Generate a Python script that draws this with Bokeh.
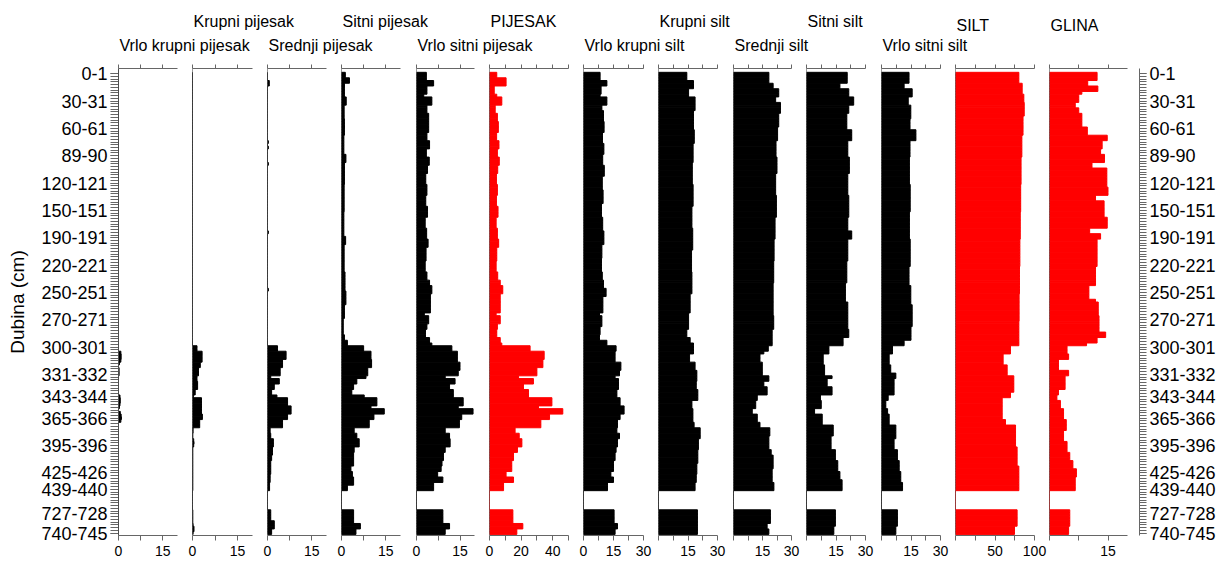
from bokeh.plotting import figure
from bokeh.layouts import row, column
from bokeh.models import (Range1d, LinearAxis, FixedTicker, CustomJSTickFormatter,
                          Span, ColumnDataSource)
from bokeh.core.properties import value
from bokeh.embed import file_html
from bokeh.resources import INLINE

# ---------------- data ----------------
sample = list(range(169))

depth_tick_idx = [0, 10, 20, 30, 40, 50, 60, 70, 80, 90, 100, 110, 118, 126, 136, 146, 152, 161, 168]
depth_labels = ["0-1", "30-31", "60-61", "89-90", "120-121", "150-151", "190-191", "220-221",
                "250-251", "270-271", "300-301", "331-332", "343-344", "365-366", "395-396",
                "425-426", "439-440", "727-728", "740-745"]

titles = ["Vrlo krupni pijesak", "Krupni pijesak", "Srednji pijesak", "Sitni pijesak",
          "Vrlo sitni pijesak", "PIJESAK", "Vrlo krupni silt", "Krupni silt", "Srednji silt",
          "Sitni silt", "Vrlo sitni silt", "SILT", "GLINA"]

vrlo_krupni_pijesak = [
    0, 0, 0, 0, 0, 0, 0, 0, 0, 0,
    0, 0, 0, 0, 0, 0, 0, 0, 0, 0,
    0, 0, 0, 0, 0, 0, 0, 0, 0, 0,
    0, 0, 0, 0, 0, 0, 0, 0, 0, 0,
    0, 0, 0, 0, 0, 0, 0, 0, 0, 0,
    0, 0, 0, 0, 0, 0, 0, 0, 0, 0,
    0, 0, 0, 0, 0, 0, 0, 0, 0, 0,
    0, 0, 0, 0, 0, 0, 0, 0, 0, 0,
    0, 0, 0, 0, 0, 0, 0, 0, 0, 0,
    0, 0, 0, 0, 0, 0, 0, 0, 0, 0,
    0, 0, 0.8, 0.9, 0.9, 0.8, 0.3, 0, 0.2, 0.2,
    0.2, 0, 0, 0, 0, 0, 0, 0, 0.5, 0.6,
    0.6, 0.5, 0.3, 0, 0.6, 0.9, 1.0, 0.8, 0, 0,
    0, 0, 0, 0, 0, 0, 0, 0, 0, 0,
    0, 0, 0, 0, 0, 0, 0, 0, 0, 0,
    0, 0, 0, 0, 0, 0, 0, 0, 0, 0,
    0, 0, 0, 0, 0, 0, 0, 0, 0]

krupni_pijesak = [
    0, 0, 0, 0, 0, 0, 0, 0, 0, 0,
    0, 0, 0, 0, 0, 0, 0, 0, 0, 0,
    0, 0, 0, 0, 0, 0, 0, 0, 0, 0,
    0, 0, 0, 0, 0, 0, 0, 0, 0, 0,
    0, 0, 0, 0, 0, 0, 0, 0, 0, 0,
    0, 0, 0, 0, 0, 0, 0, 0, 0, 0,
    0, 0, 0, 0, 0, 0, 0, 0, 0, 0,
    0, 0, 0, 0, 0, 0, 0, 0, 0, 0,
    0, 0, 0, 0, 0, 0, 0, 0, 0, 0,
    0, 0, 0, 0, 0, 0, 0, 0, 0, 0,
    1.5, 1.5, 3.2, 3.2, 3.2, 3.2, 2.6, 2.6, 2.0, 2.0,
    2.0, 1.5, 1.5, 1.7, 1.7, 1.7, 0.9, 0.9, 0.3, 3.0,
    3.0, 3.0, 3.0, 3.0, 3.0, 3.3, 3.3, 2.4, 2.4, 2.4,
    0.2, 0.2, 0.1, 0.1, 0.4, 0.5, 0.4, 0.1, 0.1, 0.1,
    0.1, 0.1, 0.1, 0.1, 0.1, 0.1, 0.1, 0.1, 0.1, 0.1,
    0.1, 0.1, 0.1, 0, 0, 0, 0, 0, 0, 0,
    0.1, 0.1, 0.1, 0.1, 0.1, 0.2, 0.5, 0.5, 0.2]

srednji_pijesak = [
    0, 0, 0, 0.6, 0.6, 0, 0, 0, 0, 0,
    0, 0, 0, 0, 0, 0, 0, 0, 0, 0,
    0, 0, 0, 0, 0, 0.3, 0, 0.3, 0, 0,
    0, 0, 0, 0.3, 0, 0, 0, 0, 0, 0,
    0, 0, 0, 0, 0, 0, 0, 0, 0, 0,
    0, 0, 0, 0, 0, 0, 0, 0, 0.3, 0,
    0, 0, 0, 0, 0, 0, 0, 0, 0, 0,
    0, 0, 0, 0, 0, 0, 0, 0, 0, 0.3,
    0, 0, 0, 0, 0, 0, 0, 0, 0, 0,
    0, 0, 0, 0, 0, 0, 0, 0, 0, 0,
    3.4, 3.4, 6.3, 6.3, 6.3, 5.1, 5.1, 5.1, 4.3, 4.3,
    4.3, 1.1, 4.0, 4.0, 2.3, 2.3, 1.4, 1.4, 3.2, 6.8,
    6.8, 6.8, 8.0, 8.0, 8.0, 6.8, 6.8, 5.1, 5.1, 5.1,
    0.9, 0.9, 1.1, 1.1, 2.0, 2.0, 2.0, 1.7, 1.7, 1.7,
    1.4, 1.4, 1.1, 1.1, 1.1, 1.1, 1.1, 0.9, 0.9, 0.9,
    0.7, 0.7, 0.7, 0, 0, 0, 0, 0, 0, 0,
    1.1, 1.1, 1.1, 1.1, 2.3, 2.3, 2.3, 1.4, 1.4]

sitni_pijesak = [
    1.3, 1.3, 2.7, 2.7, 1.0, 1.0, 1.0, 1.0, 1.0, 1.6,
    1.6, 1.6, 0.9, 0.9, 0.9, 0.9, 0.9, 1.0, 1.0, 1.0,
    1.0, 1.0, 1.0, 0.8, 0.8, 0.8, 0.8, 0.8, 0.8, 0.8,
    1.5, 1.5, 1.5, 1.0, 1.0, 1.0, 1.0, 1.0, 1.0, 1.0,
    1.0, 0.9, 0.9, 0.9, 0.9, 0.9, 0.9, 0.9, 0.9, 0.9,
    0.9, 0.8, 0.8, 0.8, 0.8, 0.8, 0.8, 0.8, 0.8, 0.8,
    1.4, 1.4, 1.4, 0.9, 0.9, 0.9, 0.9, 0.9, 0.9, 0.9,
    0.9, 0.9, 0.9, 1.2, 1.2, 1.2, 1.2, 1.2, 1.2, 1.2,
    1.5, 1.5, 1.5, 1.5, 1.5, 1.0, 1.0, 1.0, 1.0, 1.0,
    0.6, 0.6, 0.6, 0.6, 0.6, 0.6, 1.0, 1.0, 2.0, 2.0,
    7.5, 7.5, 10.0, 10.0, 10.0, 10.2, 10.2, 10.2, 8.9, 8.9,
    8.9, 8.3, 5.2, 5.2, 4.1, 4.1, 3.5, 3.5, 7.7, 12.0,
    12.0, 12.0, 10.0, 14.5, 14.5, 11.0, 11.0, 9.4, 9.4, 9.4,
    4.3, 4.3, 5.2, 5.2, 6.0, 6.0, 6.0, 4.3, 4.3, 4.1,
    4.1, 4.1, 4.1, 4.1, 3.2, 3.2, 3.7, 3.7, 4.1, 4.1,
    4.1, 2.0, 2.0, 0, 0, 0, 0, 0, 0, 0,
    4.1, 4.1, 4.1, 4.1, 4.1, 6.4, 6.4, 4.9, 4.9]

vrlo_sitni_pijesak = [
    3.4, 3.4, 3.4, 5.9, 5.9, 3.6, 3.6, 3.6, 2.5, 5.3,
    5.3, 5.3, 3.6, 3.6, 3.6, 4.2, 4.2, 4.2, 4.2, 4.2,
    4.2, 4.2, 3.6, 3.6, 3.6, 4.5, 4.5, 4.5, 3.4, 3.4,
    3.4, 4.4, 4.4, 4.4, 3.8, 3.8, 3.8, 3.2, 3.2, 3.2,
    3.2, 3.6, 3.6, 3.6, 3.6, 3.2, 3.2, 3.2, 3.2, 3.8,
    3.8, 3.8, 3.8, 3.0, 3.0, 3.0, 3.0, 3.5, 3.5, 3.5,
    3.5, 4.0, 4.0, 4.0, 3.3, 3.3, 3.3, 3.3, 3.3, 3.0,
    3.0, 3.0, 3.0, 3.6, 3.6, 3.6, 4.5, 4.5, 5.3, 5.3,
    5.3, 4.8, 4.8, 4.8, 4.8, 4.8, 4.8, 4.8, 2.7, 4.2,
    4.2, 4.2, 3.6, 3.6, 3.1, 3.1, 3.1, 4.5, 4.5, 5.3,
    12.2, 12.2, 14.1, 14.1, 14.1, 14.1, 15.0, 15.0, 15.0, 14.4,
    14.4, 9.9, 13.3, 13.3, 11.4, 11.4, 12.7, 12.7, 12.7, 16.1,
    16.1, 16.1, 14.4, 19.5, 19.5, 15.6, 15.6, 14.8, 14.8, 14.8,
    9.9, 9.9, 11.4, 11.4, 11.6, 11.6, 11.6, 9.9, 9.9, 9.3,
    9.3, 9.3, 8.8, 8.8, 8.5, 8.5, 7.3, 7.3, 9.1, 9.1,
    5.9, 5.9, 5.9, 0, 0, 0, 0, 0, 0, 0,
    9.1, 9.1, 9.1, 9.1, 9.1, 11.4, 11.4, 9.9, 9.9]

pijesak = [
    4.6, 4.6, 10.5, 10.5, 10.5, 3.0, 3.0, 3.0, 4.6, 7.8,
    7.8, 7.8, 3.6, 3.6, 3.6, 5.0, 5.0, 5.0, 5.6, 5.6,
    5.6, 5.6, 4.5, 4.5, 4.5, 6.0, 6.0, 6.0, 5.0, 5.0,
    5.0, 6.2, 6.2, 6.2, 5.2, 5.2, 5.2, 4.4, 4.4, 4.4,
    4.4, 5.0, 5.0, 5.0, 5.0, 4.4, 4.4, 4.4, 4.4, 5.4,
    5.4, 5.4, 5.4, 4.2, 4.2, 4.2, 4.2, 5.0, 5.0, 5.0,
    5.0, 5.8, 5.8, 5.8, 4.6, 4.6, 4.6, 4.6, 4.6, 4.2,
    4.2, 4.2, 4.2, 5.2, 5.2, 5.2, 6.8, 6.8, 8.4, 8.4,
    8.4, 6.8, 6.8, 6.8, 6.8, 6.8, 6.8, 6.8, 4.2, 6.8,
    6.8, 6.8, 5.0, 5.0, 4.6, 4.6, 4.6, 6.8, 6.8, 7.8,
    25.7, 25.7, 34.6, 34.6, 34.6, 33.8, 33.8, 33.8, 30.0, 30.0,
    30.0, 18.4, 27.8, 27.8, 21.5, 21.5, 24.7, 24.7, 24.7, 39.5,
    39.5, 39.5, 31.0, 46.4, 46.4, 38.0, 38.0, 32.5, 32.5, 32.5,
    16.2, 16.2, 18.8, 18.8, 20.5, 20.5, 20.5, 17.7, 17.7, 15.2,
    15.2, 15.2, 14.1, 14.1, 14.1, 14.1, 10.5, 10.5, 15.2, 15.2,
    8.9, 8.9, 8.9, 0, 0, 0, 0, 0, 0, 0,
    14.8, 14.8, 14.8, 14.8, 14.8, 21.1, 21.1, 17.3, 17.3]

vrlo_krupni_silt = [
    8.3, 8.3, 8.3, 11.7, 11.7, 8.8, 8.8, 8.8, 8.3, 11.7,
    11.7, 11.7, 9.2, 9.2, 10.0, 10.0, 10.0, 10.0, 10.3, 10.3,
    10.3, 10.3, 9.5, 9.5, 9.5, 9.5, 10.2, 10.2, 10.2, 10.2,
    9.6, 9.6, 9.6, 9.6, 10.4, 10.4, 10.4, 10.4, 9.4, 9.4,
    9.4, 9.4, 9.4, 9.8, 9.8, 9.8, 9.8, 9.8, 9.0, 9.0,
    9.0, 9.0, 9.0, 9.6, 9.6, 9.6, 9.6, 9.6, 10.2, 10.2,
    10.2, 10.2, 10.2, 9.2, 9.2, 9.2, 9.2, 9.2, 9.0, 9.0,
    9.0, 9.0, 9.0, 9.4, 9.4, 9.4, 10.0, 10.0, 10.0, 11.3,
    11.3, 11.3, 9.7, 9.7, 9.7, 9.7, 9.7, 9.7, 8.0, 9.2,
    9.2, 9.2, 9.2, 8.3, 8.3, 8.3, 8.0, 8.0, 11.7, 11.7,
    16.3, 16.3, 15.8, 15.8, 15.8, 15.8, 18.7, 18.7, 18.7, 18.0,
    18.0, 15.8, 17.5, 17.5, 17.5, 17.5, 16.7, 16.7, 16.7, 18.3,
    18.3, 18.3, 20.3, 20.3, 20.3, 18.3, 18.3, 17.0, 17.0, 17.0,
    16.7, 16.7, 18.0, 18.0, 17.0, 17.0, 17.0, 16.3, 16.3, 15.8,
    15.8, 15.8, 15.0, 15.0, 15.0, 15.0, 13.7, 13.7, 15.0, 15.0,
    12.0, 12.0, 12.0, 0, 0, 0, 0, 0, 0, 0,
    15.3, 15.3, 15.3, 15.3, 15.3, 17.0, 17.0, 15.8, 15.8]

krupni_silt = [
    14.4, 14.4, 14.4, 17.8, 17.8, 17.8, 15.3, 15.3, 15.3, 18.6,
    18.6, 18.6, 18.6, 18.6, 17.8, 17.8, 17.8, 17.8, 17.8, 17.8,
    17.8, 18.2, 18.2, 18.2, 18.2, 18.2, 17.6, 17.6, 17.6, 17.6,
    17.6, 17.6, 17.6, 17.2, 17.2, 17.2, 17.2, 17.2, 17.2, 17.2,
    17.2, 17.6, 17.6, 17.6, 17.6, 17.6, 17.6, 17.6, 17.6, 17.0,
    17.0, 17.0, 17.0, 17.0, 17.0, 17.0, 17.0, 17.4, 17.4, 17.4,
    17.4, 17.4, 17.4, 17.4, 17.4, 16.8, 16.8, 16.8, 16.8, 16.8,
    16.8, 16.8, 16.8, 17.0, 17.0, 17.0, 17.0, 17.0, 17.0, 17.0,
    17.0, 16.1, 16.1, 16.1, 16.1, 16.1, 16.1, 16.1, 15.3, 15.3,
    15.3, 15.3, 15.3, 15.3, 14.4, 14.4, 14.4, 16.1, 16.1, 17.8,
    17.8, 17.8, 17.8, 15.8, 15.8, 15.8, 18.6, 18.6, 18.6, 19.5,
    19.5, 19.5, 19.5, 19.2, 19.2, 19.2, 20.0, 20.0, 20.0, 20.0,
    17.0, 17.0, 17.0, 17.5, 17.5, 17.5, 17.5, 17.5, 18.1, 18.1,
    21.2, 21.2, 21.2, 21.2, 20.3, 20.3, 20.3, 20.3, 20.0, 20.0,
    20.0, 20.0, 20.0, 19.5, 19.5, 19.5, 19.5, 19.2, 19.2, 19.2,
    18.6, 18.6, 18.6, 0, 0, 0, 0, 0, 0, 0,
    19.8, 19.8, 19.8, 19.8, 19.8, 19.8, 19.8, 19.8, 19.8]

srednji_silt = [
    18.3, 18.3, 18.3, 18.3, 20.5, 20.5, 23.4, 23.4, 23.4, 21.8,
    21.8, 24.3, 24.3, 24.3, 24.3, 23.4, 23.4, 23.4, 23.4, 23.4,
    22.8, 22.8, 22.8, 22.8, 22.8, 22.0, 22.0, 22.0, 22.0, 22.0,
    22.0, 22.5, 22.5, 22.5, 22.5, 22.5, 22.5, 21.8, 21.8, 21.8,
    21.8, 21.8, 21.8, 21.8, 21.8, 22.2, 22.2, 22.2, 22.2, 22.2,
    22.2, 22.2, 22.2, 21.5, 21.5, 21.5, 21.5, 21.5, 21.5, 21.5,
    21.5, 21.0, 21.0, 21.0, 21.0, 21.0, 21.0, 21.0, 21.0, 20.8,
    20.8, 20.8, 20.8, 20.8, 20.8, 20.8, 20.8, 20.5, 20.5, 20.5,
    20.5, 20.5, 20.5, 20.5, 20.5, 20.5, 20.5, 20.5, 20.5, 20.8,
    20.8, 20.8, 20.8, 20.8, 20.0, 20.0, 20.0, 20.0, 20.0, 20.0,
    18.0, 18.0, 15.7, 13.7, 13.7, 13.7, 14.9, 14.9, 14.9, 14.9,
    14.9, 18.3, 18.3, 15.7, 15.7, 17.4, 17.4, 17.4, 12.3, 12.3,
    11.5, 11.5, 11.5, 9.7, 9.7, 12.3, 12.3, 12.3, 13.7, 13.7,
    18.8, 18.8, 18.8, 18.3, 18.3, 18.3, 18.3, 18.3, 19.5, 19.5,
    20.5, 20.5, 20.5, 20.5, 20.5, 20.0, 20.0, 20.0, 20.0, 20.0,
    20.9, 20.9, 20.9, 0, 0, 0, 0, 0, 0, 0,
    19.1, 19.1, 19.1, 19.1, 19.1, 17.4, 17.4, 18.3, 18.3]

sitni_silt = [
    20.7, 20.7, 20.7, 20.7, 17.0, 17.0, 21.5, 21.5, 21.5, 24.0,
    24.0, 24.0, 21.5, 21.5, 21.5, 20.5, 20.5, 20.5, 20.5, 20.5,
    20.5, 23.0, 23.0, 23.0, 23.0, 21.0, 21.0, 21.0, 21.0, 21.0,
    21.0, 21.8, 21.8, 21.8, 21.8, 21.8, 21.8, 21.0, 21.0, 21.0,
    21.0, 21.0, 21.0, 21.0, 21.0, 21.5, 21.5, 21.5, 21.5, 21.5,
    21.5, 21.5, 21.5, 21.0, 21.0, 21.0, 21.0, 21.0, 23.0, 23.0,
    23.0, 21.0, 21.0, 21.0, 21.0, 21.0, 21.0, 21.0, 21.0, 20.5,
    20.5, 20.5, 20.5, 20.5, 20.5, 20.5, 20.5, 19.8, 19.8, 19.8,
    19.8, 19.8, 19.8, 19.8, 21.0, 21.0, 21.0, 21.0, 21.0, 21.0,
    21.0, 21.0, 21.0, 21.0, 21.5, 21.5, 21.5, 18.6, 18.6, 18.6,
    11.4, 11.4, 11.4, 8.5, 8.5, 8.5, 8.5, 9.2, 9.2, 9.2,
    9.2, 13.0, 10.5, 10.5, 10.5, 13.0, 13.0, 13.0, 7.1, 7.1,
    7.5, 7.5, 7.5, 4.1, 4.1, 8.0, 8.0, 8.0, 8.0, 13.6,
    13.6, 13.6, 13.6, 12.5, 12.5, 12.5, 12.5, 12.5, 14.7, 14.7,
    14.7, 14.7, 15.9, 15.9, 15.9, 15.9, 17.0, 17.0, 17.0, 18.1,
    18.1, 18.1, 18.1, 0, 0, 0, 0, 0, 0, 0,
    14.7, 14.7, 14.7, 14.7, 14.7, 14.7, 13.9, 13.9, 13.9]

vrlo_sitni_silt = [
    14.0, 14.0, 14.0, 14.0, 11.5, 11.5, 15.6, 15.6, 15.6, 13.6,
    13.6, 13.6, 14.9, 14.9, 14.9, 14.9, 14.9, 14.5, 14.5, 14.5,
    14.5, 17.5, 17.5, 17.5, 17.5, 14.5, 14.5, 14.5, 14.5, 14.5,
    14.5, 14.2, 14.2, 14.2, 14.2, 14.2, 14.2, 14.2, 14.2, 14.2,
    14.2, 14.6, 14.6, 14.6, 14.6, 14.6, 14.6, 14.6, 14.6, 14.6,
    14.6, 14.2, 14.2, 14.2, 14.2, 14.2, 14.2, 14.2, 14.2, 14.2,
    14.2, 14.6, 14.6, 14.6, 14.6, 14.6, 14.6, 14.6, 14.6, 14.6,
    14.6, 14.0, 14.0, 14.0, 14.0, 14.0, 14.0, 14.0, 14.9, 14.9,
    14.9, 14.9, 14.9, 14.9, 14.9, 15.6, 15.6, 15.6, 15.6, 15.6,
    15.6, 15.6, 15.6, 15.0, 15.0, 15.0, 15.0, 15.0, 11.5, 11.5,
    5.6, 5.6, 5.6, 3.9, 3.9, 3.9, 3.9, 4.7, 4.7, 4.7,
    7.3, 7.3, 6.4, 6.4, 6.4, 6.4, 6.4, 6.4, 3.4, 3.4,
    2.2, 2.2, 2.2, 3.1, 3.1, 3.9, 3.9, 3.9, 3.9, 7.3,
    7.3, 7.3, 7.3, 7.3, 6.4, 6.4, 6.4, 6.4, 8.1, 8.1,
    8.1, 8.1, 9.0, 9.0, 9.0, 9.0, 9.8, 9.8, 9.8, 9.8,
    10.7, 10.7, 10.7, 0, 0, 0, 0, 0, 0, 0,
    8.1, 8.1, 8.1, 8.1, 8.1, 8.1, 7.3, 7.3, 7.3]

silt = [
    80.2, 80.2, 80.2, 80.2, 84.4, 84.4, 84.4, 84.4, 86.5, 86.5,
    86.5, 87.0, 87.0, 87.0, 87.0, 87.0, 85.5, 85.5, 85.5, 85.5,
    85.5, 85.5, 85.5, 84.0, 84.0, 84.0, 84.0, 84.0, 84.0, 84.0,
    84.0, 83.0, 83.0, 83.0, 83.0, 83.0, 83.0, 83.0, 83.0, 83.0,
    83.0, 82.5, 82.5, 82.5, 82.5, 82.5, 82.5, 82.5, 82.5, 82.5,
    82.5, 82.0, 82.0, 82.0, 82.0, 82.0, 82.0, 82.0, 82.0, 82.0,
    82.0, 81.5, 81.5, 81.5, 81.5, 81.5, 81.5, 81.5, 81.5, 81.5,
    81.5, 81.0, 81.0, 81.0, 81.0, 81.0, 81.0, 81.0, 81.0, 81.0,
    81.0, 80.5, 80.5, 80.5, 80.5, 80.5, 80.5, 80.5, 80.5, 80.5,
    80.5, 80.2, 80.2, 80.2, 80.2, 80.2, 80.2, 80.2, 80.2, 80.2,
    69.6, 69.6, 69.6, 60.3, 60.3, 60.3, 60.3, 65.4, 65.4, 65.4,
    65.4, 73.8, 73.8, 73.8, 73.8, 73.8, 73.8, 69.6, 69.6, 59.1,
    59.1, 59.1, 59.1, 59.1, 59.1, 59.1, 59.1, 63.3, 63.3, 76.0,
    76.0, 76.0, 76.0, 76.0, 76.0, 76.0, 76.0, 78.0, 78.0, 78.0,
    78.0, 78.0, 78.0, 78.0, 80.2, 80.2, 80.2, 80.2, 80.2, 80.2,
    80.2, 80.2, 80.2, 0, 0, 0, 0, 0, 0, 0,
    78.0, 78.0, 78.0, 78.0, 78.0, 78.0, 74.7, 74.7, 74.7]

glina = [
    12.2, 12.2, 12.2, 9.8, 9.8, 12.4, 12.4, 8.3, 7.5, 7.5,
    7.5, 6.6, 6.6, 7.5, 7.5, 8.3, 8.3, 8.3, 8.3, 8.3,
    9.7, 9.7, 9.7, 14.8, 14.8, 13.5, 13.5, 13.5, 13.1, 13.1,
    14.1, 14.1, 14.1, 10.9, 10.9, 14.7, 14.7, 14.7, 14.7, 14.7,
    14.7, 14.7, 15.0, 15.0, 15.0, 11.8, 11.8, 14.0, 14.0, 14.0,
    14.0, 14.0, 14.0, 14.8, 14.8, 14.8, 14.8, 10.3, 10.3, 13.1,
    13.1, 12.2, 12.2, 12.2, 12.2, 12.2, 12.2, 12.2, 12.2, 12.2,
    12.2, 11.8, 11.8, 11.8, 11.8, 11.8, 11.8, 11.8, 10.1, 10.1,
    10.1, 10.1, 10.1, 11.8, 12.5, 12.5, 12.5, 12.5, 12.5, 12.7,
    12.7, 12.7, 12.7, 12.7, 12.7, 14.4, 14.4, 12.2, 12.2, 9.5,
    4.5, 4.5, 4.5, 4.9, 4.9, 2.3, 2.3, 2.3, 2.3, 4.9,
    4.9, 4.0, 4.0, 4.0, 4.0, 4.0, 2.3, 2.3, 1.9, 1.9,
    2.8, 2.8, 2.8, 3.6, 3.6, 3.6, 3.6, 4.3, 4.3, 4.3,
    4.3, 3.6, 3.6, 3.6, 3.6, 4.5, 4.5, 4.5, 4.5, 5.2,
    5.2, 5.2, 6.0, 6.0, 6.0, 6.9, 6.9, 6.9, 6.6, 6.6,
    6.6, 6.6, 6.6, 0, 0, 0, 0, 0, 0, 0,
    5.2, 5.2, 5.2, 5.2, 5.2, 5.2, 4.9, 4.9, 4.9]

series = [vrlo_krupni_pijesak, krupni_pijesak, srednji_pijesak, sitni_pijesak,
          vrlo_sitni_pijesak, pijesak, vrlo_krupni_silt, krupni_silt, srednji_silt,
          sitni_silt, vrlo_sitni_silt, silt, glina]
for s in series:
    assert len(s) == len(sample), len(s)

axis_max = [20, 20, 20, 20, 20, 50, 30, 30, 30, 30, 30, 100, 20]
x_ticks = [[0, 7.5, 15]] * 5 + [[0, 10, 20, 30, 40, 50]] + [[0, 7.5, 15, 22.5, 30]] * 5 + \
          [[0, 25, 50, 75, 100], [0, 7.5, 15]]
x_tick_labels = [["0", "", "15"]] * 5 + [["0", "", "20", "", "40", ""]] + \
                [["0", "", "15", "", "30"]] + [["", "", "15", "", "30"]] * 4 + \
                [["", "", "50", "", "100"], ["", "", "15"]]

# ---------------- layout / style ----------------
FONT = "Liberation Sans"
RED = "#ff0000"
colors = ["#000000"] * 5 + [RED] + ["#000000"] * 5 + [RED, RED]
AX = "#666666"

X0 = [118, 192, 267, 341, 416, 489, 583, 658, 733, 806, 881, 955, 1049]   # page x of each panel's zero
PW = [59, 60, 59, 59, 58, 79, 60, 59, 58, 59, 59, 79, 78]               # pixel width of axis span
BL = [118, 7, 7, 7, 7, 7, 7, 0, 0, 0, 0, 0, 0]
RIGHT_AXIS_X = 1139
FW = PW[:-1] + [RIGHT_AXIS_X - X0[-1]]
BR = [X0[k + 1] - BL[k + 1] - (X0[k] + FW[k]) for k in range(12)] + [82]
title_base = [44.5, 20.5, 44.5, 20.5, 44.5, 20.5, 44.5, 20.5, 44.5, 20.5, 44.5, 24.5, 24.5]

HEADER_H = 58
FRAME_H = 467
TOP_B = 10
BOT_B = 28

fmt_code = "const k = t.indexOf(tick); return k < 0 ? '' : l[k];"

yr = Range1d(start=168.9, end=-1.9)
figs = []
for k in range(13):
    xend = axis_max[k] * FW[k] / PW[k]
    yloc = "left" if k == 0 else ("right" if k == 12 else None)
    p = figure(frame_width=FW[k], frame_height=FRAME_H, x_range=Range1d(0, xend), y_range=yr,
               x_axis_location=None, y_axis_location=yloc, toolbar_location=None,
               output_backend="svg", min_border_left=BL[k], min_border_right=BR[k],
               min_border_top=TOP_B, min_border_bottom=BOT_B, outline_line_color=None,
               background_fill_color="white", border_fill_color="white")
    p.grid.visible = False

    src = ColumnDataSource(dict(y=sample, v=series[k]))
    p.hbar(y="y", left=0, right="v", height=1.0, source=src, fill_color=colors[k],
           line_color=colors[k], line_width=1)
    p.add_layout(Span(location=0, dimension="height", line_color="#333333", line_width=1))

    for side in ("above", "below"):
        ax = LinearAxis(ticker=FixedTicker(ticks=x_ticks[k], minor_ticks=[]),
                        formatter=CustomJSTickFormatter(
                            args=dict(t=x_ticks[k],
                                      l=x_tick_labels[k] if side == "below" else [""] * len(x_ticks[k])),
                            code=fmt_code),
                        bounds=(0, axis_max[k]))
        ax.axis_line_color = AX
        ax.major_tick_line_color = AX
        ax.minor_tick_line_color = None
        ax.major_tick_in = 0
        ax.major_label_text_font = FONT
        ax.major_label_text_color = "black"
        if side == "above":
            ax.major_tick_out = 4
            ax.major_label_text_font_size = "0px"
            ax.major_label_standoff = 0
        else:
            ax.major_tick_out = 5
            ax.major_label_text_font_size = "14px"
            ax.major_label_standoff = 5
        p.add_layout(ax, side)

    if yloc is not None:
        ya = p.yaxis[0]
        ya.ticker = FixedTicker(ticks=depth_tick_idx, minor_ticks=sample)
        ya.formatter = CustomJSTickFormatter(args=dict(t=depth_tick_idx, l=depth_labels), code=fmt_code)
        ya.axis_line_color = AX
        ya.major_tick_line_color = AX
        ya.minor_tick_line_color = AX
        ya.major_tick_in = 0
        ya.minor_tick_in = 0
        ya.major_tick_out = 8
        ya.minor_tick_out = 8
        ya.major_label_text_font = FONT
        ya.major_label_text_font_size = "18px"
        ya.major_label_text_color = "black"
        if yloc == "left":
            ya.major_label_standoff = 3
            ya.axis_label = "Dubina (cm)"
            ya.axis_label_text_font = FONT
            ya.axis_label_text_font_size = "19px"
            ya.axis_label_text_font_style = "normal"
            ya.axis_label_text_color = "black"
            ya.axis_label_standoff = 10
        else:
            ya.major_tick_out = 7
            ya.minor_tick_out = 7
            ya.major_label_standoff = 3
    figs.append(p)

total_w = sum(BL[k] + FW[k] + BR[k] for k in range(13))
hdr = figure(width=total_w, height=HEADER_H, x_range=Range1d(0, total_w),
             y_range=Range1d(HEADER_H, 0), x_axis_location=None, y_axis_location=None,
             toolbar_location=None, output_backend="svg", min_border=0,
             outline_line_color=None, background_fill_color="white", border_fill_color="white")
hdr.grid.visible = False
hdr.text(x=[x + 1 for x in X0], y=title_base, text=titles, text_font=value(FONT),
         text_font_size=value("16px"), text_align="left", text_baseline="alphabetic",
         text_color="black")

layout = column(hdr, row(*figs))
open("out.html", "w").write(file_html(layout, INLINE, "Granulometrija"))
